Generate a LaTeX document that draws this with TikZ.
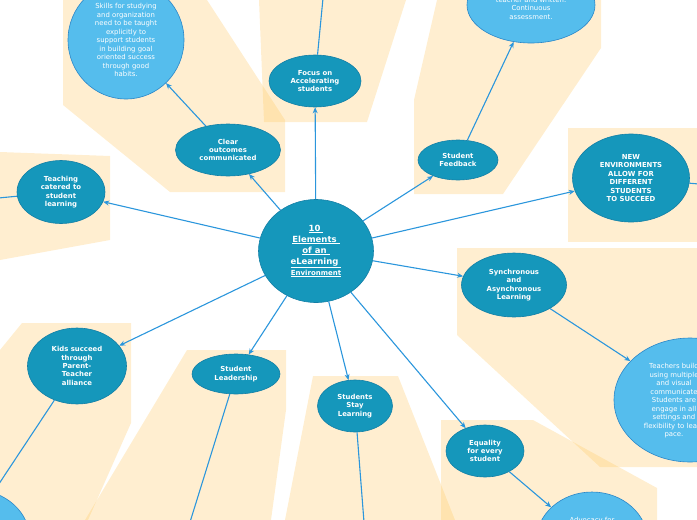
\documentclass[tikz,border=0pt]{standalone}
\usepackage{fontspec}
\setmainfont{DejaVu Sans}
\usepackage{xcolor}
\definecolor{hubfill}{HTML}{1597BB}
\definecolor{hubline}{HTML}{137FA6}
\definecolor{notefill}{HTML}{55BDED}
\definecolor{noteline}{HTML}{2A86C8}
\definecolor{wire}{HTML}{2B96DC}
\definecolor{band}{HTML}{FFC864}
\usepackage{tikz}
\usetikzlibrary{arrows.meta,shapes.geometric}

\begin{document}
\begin{tikzpicture}[x=1pt,y=-1pt,
  topic/.style={ellipse, draw=hubline, fill=hubfill, line width=0.6pt, inner sep=0pt,
    text=white, align=center, font=\bfseries\fontsize{6.9}{8.4}\selectfont},
  note/.style={ellipse, draw=noteline, fill=notefill, line width=0.6pt, inner sep=0pt,
    text=white, align=center, font=\fontsize{6.9}{8.5}\selectfont},
  notetext/.style={text=white, align=center, inner sep=0pt, font=\fontsize{6.9}{8.5}\selectfont},
  bandfill/.style={fill=band, fill opacity=0.3},
  link/.style={draw=wire, line width=1.1pt, -{Stealth[length=6pt,width=5pt]}}]
  \useasboundingbox (0,0) rectangle (697,520);

  % beige bands behind each branch
  \fill[bandfill] (63,0) -- (207,0) -- (285,120) -- (285,192) -- (170,192) -- (63,105) -- cycle;
  \fill[bandfill] (259,0) -- (406,0) -- (367,122) -- (264,122) -- cycle;
  \fill[bandfill] (437,0) -- (601,0) -- (601,48) -- (503,194) -- (414,194) -- (414,100) -- cycle;
  \fill[bandfill] (568,128) rectangle (697,242);
  \fill[bandfill] (0,152) -- (110,156) -- (110,240) -- (0,260) -- cycle;
  \fill[bandfill] (457,248) -- (697,248) -- (697,467) -- (600,467) -- (457,335) -- cycle;
  \fill[bandfill] (22,323) -- (131,323) -- (131,423) -- (88,520) -- (0,520) -- (0,350) -- cycle;
  \fill[bandfill] (187,350) -- (286,350) -- (286,410) -- (271,520) -- (85,520) -- cycle;
  \fill[bandfill] (313,376) -- (398,376) -- (455,520) -- (285,520) -- cycle;
  \fill[bandfill] (441,420) -- (533,420) -- (657,488) -- (657,520) -- (441,520) -- cycle;

  % hub
  \node[topic, minimum width=115pt, minimum height=103pt,
        font=\bfseries\fontsize{8.5}{11}\selectfont] (core) at (316,251)
       {\underline{10\ }\\\underline{Elements\ }\\\underline{of an\ }\\\underline{eLearning\ }\\
        {\fontsize{7}{11}\selectfont\underline{Environment}}};

  % branches
  \node[topic, minimum width=105pt, minimum height=52pt] (clear) at (228,150) {Clear\\outcomes\\communicated};
  \node[topic, minimum width=92pt, minimum height=52pt] (focus) at (315,81) {Focus on\\Accelerating\\students};
  \node[topic, minimum width=80pt, minimum height=40pt] (feedback) at (458,160) {Student\\Feedback};
  \node[topic, minimum width=117pt, minimum height=88pt] (newenv) at (631,178)
       {NEW\\ENVIRONMENTS\\ALLOW FOR\\DIFFERENT\\STUDENTS\\TO SUCCEED};
  \node[topic, minimum width=88pt, minimum height=63pt] (catered) at (61,192) {Teaching\\catered to\\student\\learning};
  \node[topic, minimum width=105pt, minimum height=64pt] (sync) at (514,285) {Synchronous\\and\\Asynchronous\\Learning};
  \node[topic, minimum width=99pt, minimum height=76pt] (alliance) at (77,366) {Kids succeed\\through\\Parent-\\Teacher\\alliance};
  \node[topic, minimum width=88pt, minimum height=40pt] (leader) at (236,374) {Student\\Leadership};
  \node[topic, minimum width=75pt, minimum height=52pt] (stay) at (355,406) {Students\\Stay\\Learning};
  \node[topic, minimum width=78pt, minimum height=52pt] (equal) at (485,451) {Equality\\for every\\student};

  % notes
  \node[note, minimum width=116pt, minimum height=118pt] (habits) at (126,40)
       {Skills for studying\\and organization\\need to be taught\\explicitly to\\support students\\in building goal\\oriented success\\through good\\habits.};
  \node[note, minimum width=128pt, minimum height=76pt] (assess) at (531,5) {};
  \node[notetext] (assesstxt) at (531,8) {teacher and written.\\Continuous\\assessment.};
  \node[note, minimum width=152pt, minimum height=124pt] (buildnote) at (690,400) {};
  \node[notetext] (buildtxt) at (674,401)
       {Teachers build\\using multiple\\and visual\\communicate\\Students are\\engage in all\\settings and\\flexibility to learn\\pace.};
  \node[note, minimum width=112pt, minimum height=100pt] (advocacy) at (592,542) {};
  \node[notetext] (advtxt) at (592,521) {Advocacy for};
  \node[note, minimum width=110pt, minimum height=100pt] (parentnote) at (-25,540) {};

  % ends leaving the page
  \coordinate (focusout) at (324,-12);
  \coordinate (newenvout) at (710,185);
  \coordinate (cateredout) at (-12,199);
  \coordinate (leaderout) at (186,535);
  \coordinate (stayout) at (365,535);

  % connectors
  \draw[link] (core) -- (clear);
  \draw[link] (clear) -- (habits);
  \draw[link] (core) -- (focus);
  \draw[link] (focus) -- (focusout);
  \draw[link] (core) -- (feedback);
  \draw[link] (feedback) -- (assess);
  \draw[link] (core) -- (newenv);
  \draw[link] (newenv) -- (newenvout);
  \draw[link] (core) -- (catered);
  \draw[link] (catered) -- (cateredout);
  \draw[link] (core) -- (sync);
  \draw[link] (sync) -- (buildnote);
  \draw[link] (core) -- (alliance);
  \draw[link] (alliance) -- (parentnote.69);
  \draw[link] (core) -- (leader);
  \draw[link] (leader) -- (leaderout);
  \draw[link] (core) -- (stay);
  \draw[link] (stay) -- (stayout);
  \draw[link] (core) -- (equal);
  \draw[link] (equal) -- (advocacy);
\end{tikzpicture}
\end{document}
